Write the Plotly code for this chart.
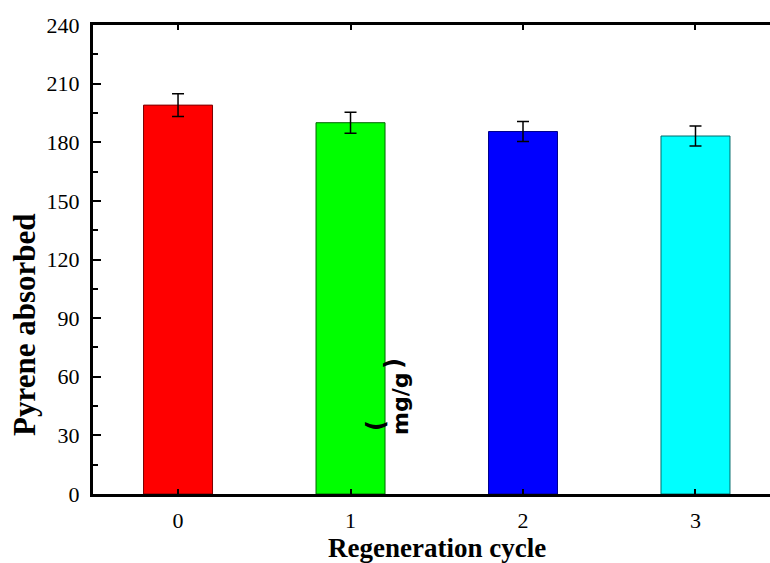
import plotly.graph_objects as go

# Pyrene uptake over successive regeneration cycles
cycles = ["0", "1", "2", "3"]
absorbed = [199.0, 190.0, 185.5, 183.2]
errors = [5.8, 5.4, 5.1, 5.1]
fill_colors = ["#ff0000", "#00ff00", "#0000ff", "#00ffff"]
edge_colors = ["#7a0000", "#006400", "#00008b", "#006b6b"]
y_ticks = [0, 30, 60, 90, 120, 150, 180, 210, 240]

serif = "Liberation Serif"
W, H = 770, 563
L, R, T, B = 93, 0, 25, 69


def px(x, y):
    """Convert pixel position on the page to paper coordinates."""
    return (x - L) / (W - L - R), (H - B - y) / (H - T - B)


fig = go.Figure()
fig.add_trace(go.Bar(
    x=list(range(len(cycles))),
    y=absorbed,
    width=0.4,
    marker=dict(color=fill_colors, line=dict(color=edge_colors, width=1)),
    error_y=dict(type="data", array=errors, visible=True,
                 color="black", thickness=1.5, width=6),
    showlegend=False,
))

annotations = []


def add_text(text, x, y, size, family, angle=0):
    ax, ay = px(x, y)
    annotations.append(dict(
        text=text, x=ax, y=ay, xref="paper", yref="paper",
        xanchor="center", yanchor="middle", textangle=angle,
        showarrow=False, font=dict(family=family, size=size, color="black"),
    ))


add_text("<b>Regeneration cycle</b>", 437, 548, 27, serif)
add_text("<b>Pyrene absorbed</b>", 24, 325, 31, serif, -90)
add_text("<b>mg/g</b>", 400, 404, 22, "DejaVu Sans", -90)
add_text("<b>(</b>", 376, 426, 24, "DejaVu Sans", -90)
add_text("<b>)</b>", 394, 364, 24, "DejaVu Sans", -90)

fig.update_layout(
    width=W, height=H,
    margin=dict(l=L, r=R, t=T, b=B),
    paper_bgcolor="white", plot_bgcolor="white",
    font=dict(family=serif, color="black", size=22),
    xaxis=dict(
        range=[-0.493, 3.432],
        tickmode="array",
        tickvals=list(range(len(cycles))),
        ticktext=cycles,
        ticks="inside", ticklen=5, tickwidth=2, tickcolor="black",
        showline=True, linewidth=3, linecolor="black", mirror="ticks",
        showgrid=False, zeroline=False,
        tickfont=dict(family=serif, size=22),
        ticklabelstandoff=5,
    ),
    yaxis=dict(
        range=[0, 240],
        tickmode="array",
        tickvals=y_ticks,
        ticks="inside", ticklen=8, tickwidth=2, tickcolor="black",
        minor=dict(ticks="inside", ticklen=5, tickwidth=2, tickcolor="black",
                   dtick=15, showgrid=False),
        showline=True, linewidth=3, linecolor="black",
        showgrid=False, zeroline=False,
        tickfont=dict(family=serif, size=22),
        ticklabelstandoff=6,
    ),
    annotations=annotations,
)

fig.write_html("out.html")
